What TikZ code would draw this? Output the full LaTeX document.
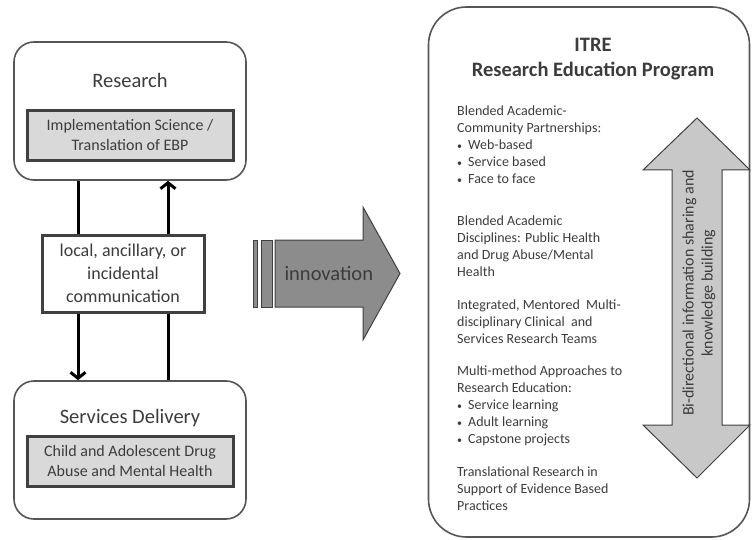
\documentclass[tikz,border=0pt]{standalone}
\usepackage{fontspec}
\setmainfont{Carlito}
\usetikzlibrary{arrows.meta}
\definecolor{txtgray}{HTML}{3C3C3C}
\definecolor{boxgray}{HTML}{555555}
\definecolor{darkline}{HTML}{404040}
\definecolor{innerfill}{HTML}{D9D9D9}
\definecolor{innofill}{HTML}{8C8C8C}
\definecolor{bifill}{HTML}{C8C8C8}
\newcommand{\itemdot}{\makebox[11pt][l]{\raisebox{0.5pt}{\fontsize{10}{10}\selectfont\textbullet}}}
\begin{document}
\begin{tikzpicture}[x=1pt,y=-1pt,
  roundbox/.style={draw=boxgray,line width=1.6pt,rounded corners=20pt,minimum width=232pt,minimum height=138pt},
  innerbox/.style={draw=darkline,line width=3pt,fill=innerfill,minimum width=206pt,minimum height=50pt,align=center,text=txtgray,font=\fontsize{16}{20}\selectfont},
  boxtitle/.style={text=txtgray,font=\fontsize{20.5}{24}\selectfont},
  commbox/.style={draw=darkline,line width=3pt,fill=white,minimum width=162pt,minimum height=77pt,align=center,text=txtgray,font=\fontsize{18}{23}\selectfont},
  link/.style={line width=3pt,black},
  tip/.style={-{Straight Barb[length=6pt,width=15pt]}},
  para/.style={anchor=north west,inner sep=0pt,align=left,text=txtgray,font=\fontsize{14}{17}\selectfont}]
\useasboundingbox (0,0) rectangle (752,540);

% left side
\node[roundbox] (research) at (130,111) {};
\node[boxtitle] (restitle) at (130,80) {Research};
\node[innerbox] (impl) at (130,135.5) {Implementation Science /\\Translation of EBP};
\node[commbox] (comm) at (123,273.5) {local, ancillary, or\\incidental\\communication};
\node[roundbox] (services) at (130,450) {};
\node[boxtitle] (servtitle) at (130,418) {Services Delivery};
\node[innerbox] (child) at (130,461) {Child and Adolescent Drug\\Abuse and Mental Health};

\coordinate (lx) at (78,0);
\coordinate (rx) at (168,0);
\draw[link] (research.south -| lx) -- (comm.north -| lx);
\draw[link,tip] (comm.north -| rx) -- (research.south -| rx);
\draw[link,tip] (comm.south -| lx) -- (services.north -| lx);
\draw[link] (services.north -| rx) -- (comm.south -| rx);

% innovation arrow
\draw[darkline,line width=1pt,fill=innofill] (253,240) rectangle (257,307);
\draw[darkline,line width=1pt,fill=innofill] (261,240) rectangle (272,307);
\draw[darkline,line width=1pt,fill=innofill] (275,240) -- (363,240) -- (363,207) -- (400,273.5)
  -- (363,340) -- (363,307) -- (275,307) -- cycle;
\node[anchor=west,text=txtgray,font=\fontsize{20.5}{24}\selectfont] (innov) at (281,273) {innovation};

% ITRE program
\node[draw=boxgray,line width=1.6pt,rounded corners=38pt,minimum width=321pt,minimum height=530pt] (itre) at (589,272) {};
\node[align=center,text=txtgray,font=\bfseries\fontsize{20.5}{25}\selectfont] (itretitle) at (593,59.5) {ITRE\\Research Education Program};

\node[para] (blend) at (457,106) {Blended Academic-\\Community Partnerships:\\
  \itemdot Web-based\\
  \itemdot Service based\\
  \itemdot Face to face};
\node[para] (disc) at (457,216) {Blended Academic\\Disciplines: Public Health\\and Drug Abuse/Mental\\Health};
\node[para] (teams) at (457,300) {Integrated, Mentored\ \ Multi-\\disciplinary Clinical\ \ and\\Services Research Teams};
\node[para] (multi) at (457,366) {Multi-method Approaches to\\Research Education:\\
  \itemdot Service learning\\
  \itemdot Adult learning\\
  \itemdot Capstone projects};
\node[para] (transl) at (457,467) {Translational Research in\\Support of Evidence Based\\Practices};

% bi-directional arrow
\draw[darkline,line width=1pt,fill=bifill] (697,118) -- (750,170) -- (722,170) -- (722,425) -- (750,425)
  -- (697,478) -- (643,425) -- (672,425) -- (672,170) -- (643,170) -- cycle;
\node[rotate=90,align=center,text=txtgray,font=\fontsize{16}{19}\selectfont] (bitext) at (699,293)
  {Bi-directional information sharing and\\knowledge building};
\end{tikzpicture}
\end{document}
